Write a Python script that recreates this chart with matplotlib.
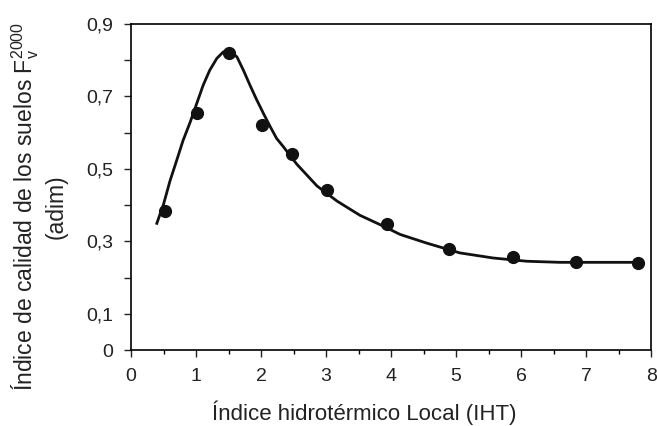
import matplotlib
matplotlib.use("Agg")
import matplotlib.pyplot as plt
from matplotlib.ticker import MultipleLocator, FixedLocator

plt.rcParams['font.family'] = ['Liberation Sans', 'DejaVu Sans']
plt.rcParams['mathtext.fontset'] = 'custom'
plt.rcParams['mathtext.rm'] = 'Liberation Sans'

# puntos observados
iht = [0.52, 1.02, 1.51, 2.02, 2.48, 3.01, 3.94, 4.89, 5.88, 6.85, 7.8]
fv = [0.383, 0.653, 0.819, 0.622, 0.542, 0.442, 0.347, 0.278, 0.256, 0.242, 0.239]

# curva ajustada
curva_x = [0.39, 0.5, 0.6, 0.7, 0.8, 0.91, 1.01, 1.11, 1.21, 1.32, 1.42, 1.52,
           1.63, 1.73, 1.83, 1.93, 2.04, 2.14, 2.24, 2.34, 2.55, 2.86, 3.17,
           3.52, 3.88, 4.14, 4.55, 5.06, 5.57, 6.09, 6.6, 7.2, 7.83]
curva_y = [0.346, 0.402, 0.467, 0.522, 0.578, 0.629, 0.680, 0.731, 0.772,
           0.805, 0.823, 0.826, 0.809, 0.772, 0.731, 0.692, 0.652, 0.617,
           0.584, 0.562, 0.513, 0.453, 0.411, 0.372, 0.342, 0.319, 0.295,
           0.268, 0.254, 0.245, 0.242, 0.242, 0.242]

y_ticks = [0, 0.1, 0.2, 0.3, 0.4, 0.5, 0.6, 0.7, 0.8, 0.9]
y_labels = ["0", "0,1", "", "0,3", "", "0,5", "", "0,7", "", "0,9"]

fig = plt.figure(figsize=(6.57, 4.26), dpi=100)
ax = fig.add_axes([0.1994, 0.1784, 0.7916, 0.7653])

col = "#111111"
ax.plot(curva_x, curva_y, color=col, lw=2.0, solid_capstyle="butt",
        solid_joinstyle="round")
ax.plot(iht, fv, "o", color=col, ms=8.5)

ax.set_xlim(0, 8)
ax.set_ylim(0, 0.9)
ax.xaxis.set_major_locator(MultipleLocator(1))
ax.xaxis.set_minor_locator(MultipleLocator(0.5))
ax.yaxis.set_major_locator(FixedLocator(y_ticks))
ax.set_yticklabels(y_labels)

ax.tick_params(which="major", direction="out", length=5, width=1, labelsize=14,
               colors="#222222", pad=8)
ax.tick_params(which="minor", direction="out", length=3, width=1)
for s in ax.spines.values():
    s.set_linewidth(1.2)

ax.set_xlabel("Índice hidrotérmico Local (IHT)", fontsize=16, color="#222222")
ax.xaxis.set_label_coords(0.448, -0.155)
ax.set_ylabel("Índice de calidad de los suelos F$_{\\mathrm{v}}^{\\mathrm{2000}}$\n(adim)",
              fontsize=16.5, color="#222222", linespacing=1.25)
ax.yaxis.set_label_coords(-0.121, 0.44)

fig.savefig("out.png", dpi=100)
